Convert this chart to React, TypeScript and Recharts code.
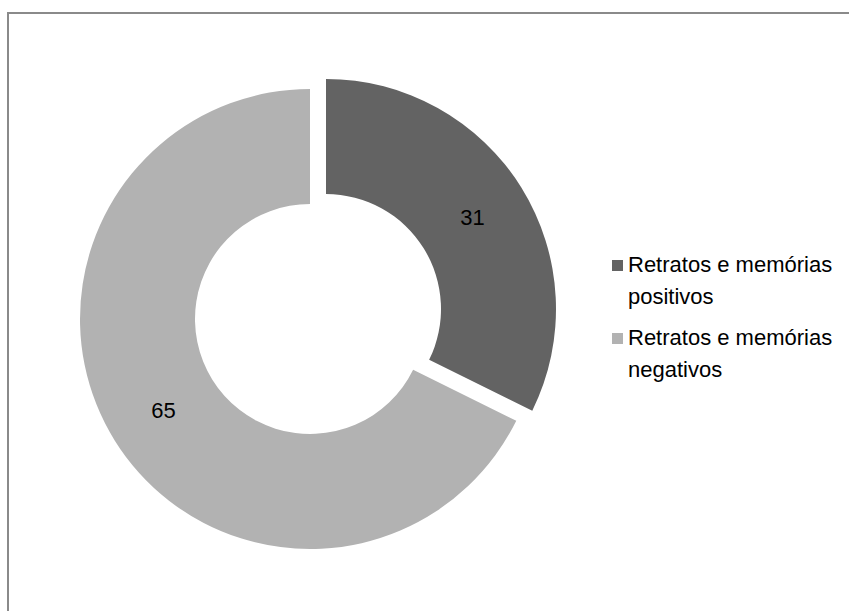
import { PieChart, Pie, Cell, Legend } from 'recharts';

const categories = ['Retratos e memórias positivos', 'Retratos e memórias negativos'];
const values = [31, 65];
const colors = ['#636363', '#b2b2b2'];

const pieData = categories.map((name, i) => ({ name, value: values[i] }));

const FONT = '"Liberation Sans", Arial, sans-serif';
const RAD = Math.PI / 180;

// the dark slice is pulled out of the ring, so it lives in its own pie with a moved centre
const exploded = 0;

function makeLabel(showIndex: number) {
    return (props: any) => {
        const { cx, cy, midAngle, innerRadius, outerRadius, index, value } = props;
        if (index !== showIndex) return null;
        const r = (innerRadius + outerRadius) / 2;
        const x = cx + r * Math.cos(-midAngle * RAD);
        const y = cy + r * Math.sin(-midAngle * RAD);
        return (
            <text x={x} y={y} fill="#000" fontSize={22} fontFamily={FONT} textAnchor="middle" dominantBaseline="central">
                {value}
            </text>
        );
    };
}

function LegendBox() {
    return (
        <div style={{ fontFamily: FONT, fontSize: 22, color: '#000', lineHeight: '32px' }}>
            {categories.map((c, i) => (
                <div key={c} style={{ display: 'flex', alignItems: 'flex-start', marginBottom: 9 }}>
                    <span style={{ display: 'inline-block', width: 11, height: 11, background: colors[i], marginTop: 11, marginRight: 5, flexShrink: 0 }} />
                    <span style={{ width: 215 }}>{c}</span>
                </div>
            ))}
        </div>
    );
}

export default function App() {
    return (
        <div style={{ position: 'fixed', left: 0, top: 0, width: 849, height: 611, overflow: 'hidden', background: '#fff' }}>
            <div style={{ position: 'absolute', left: 7, top: 12, width: 900, height: 700, borderLeft: '2px solid #8a8a8a', borderTop: '2px solid #8a8a8a', boxSizing: 'border-box' }} />
            <div style={{ position: 'absolute', left: 0, top: 0 }}>
                <PieChart width={849} height={611}>
                    <Pie
                        data={pieData}
                        dataKey="value"
                        nameKey="name"
                        cx={321}
                        cy={304}
                        innerRadius={115}
                        outerRadius={230}
                        startAngle={90}
                        endAngle={-270}
                        stroke="none"
                        labelLine={false}
                        label={makeLabel(exploded)}
                        isAnimationActive={false}
                    >
                        {pieData.map((d, i) => (
                            <Cell key={d.name} fill={i === exploded ? colors[i] : 'transparent'} />
                        ))}
                    </Pie>
                    <Pie
                        data={pieData}
                        dataKey="value"
                        nameKey="name"
                        cx={305}
                        cy={314}
                        innerRadius={115}
                        outerRadius={230}
                        startAngle={90}
                        endAngle={-270}
                        stroke="none"
                        labelLine={false}
                        label={makeLabel(1)}
                        isAnimationActive={false}
                    >
                        {pieData.map((d, i) => (
                            <Cell key={d.name} fill={i === 1 ? colors[i] : 'transparent'} />
                        ))}
                    </Pie>
                    <Legend
                        layout="vertical"
                        content={() => <LegendBox />}
                        wrapperStyle={{ left: 612, top: 249, width: 235 }}
                    />
                </PieChart>
            </div>
        </div>
    );
}
